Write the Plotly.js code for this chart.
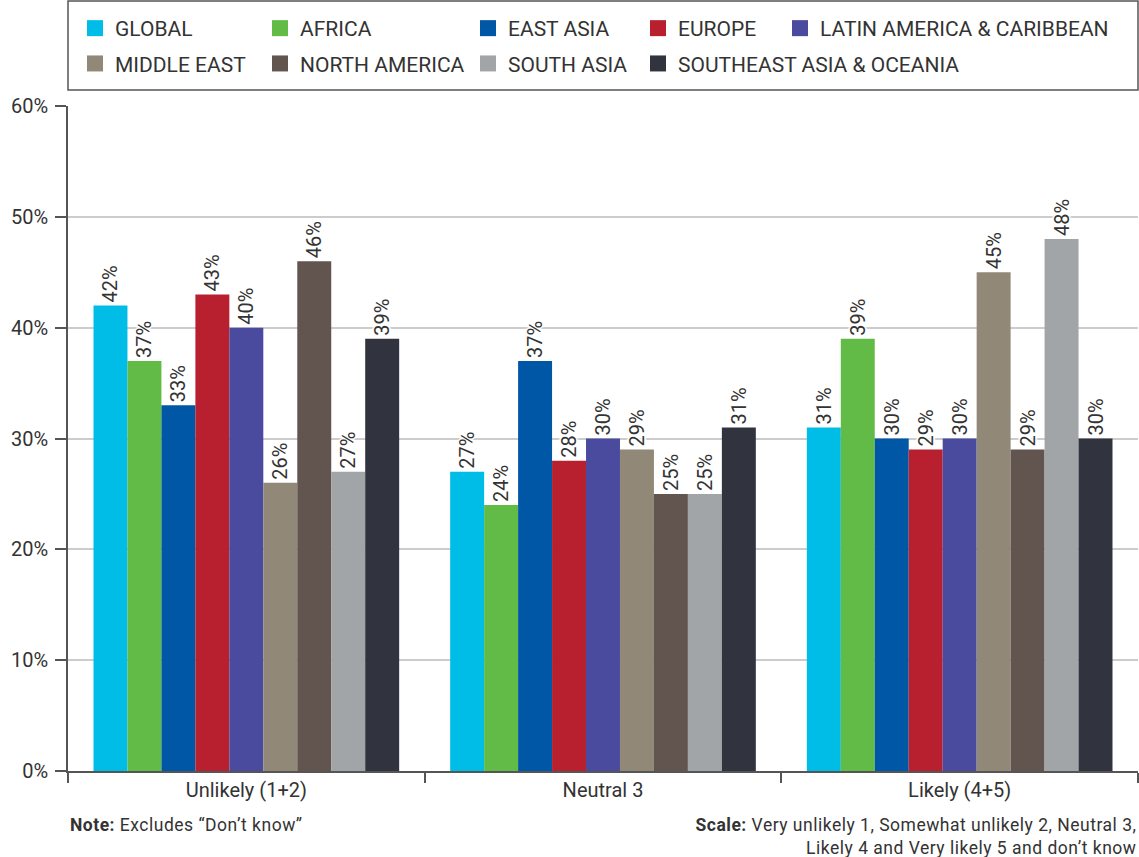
<!DOCTYPE html>
<html><head><meta charset="utf-8">
<script src="https://cdn.plot.ly/plotly-3.0.1.min.js"></script>
<style>
html,body{margin:0;padding:0;background:#fff}#chart{width:1139px;height:857px}
#chart .annotation-text{letter-spacing:0.5px}
</style>
</head><body><div id="chart"></div>
<script>
const categories = ["Unlikely (1+2)", "Neutral 3", "Likely (4+5)"];
const regions = ["GLOBAL","AFRICA","EAST ASIA","EUROPE","LATIN AMERICA & CARIBBEAN","MIDDLE EAST","NORTH AMERICA","SOUTH ASIA","SOUTHEAST ASIA & OCEANIA"];
const colors = ["#00BDE8","#62BB46","#0057A6","#B8202F","#4A4A9F","#928877","#62554F","#A2A5A8","#31343F"];
const global_ = [42,27,31];
const africa = [37,24,39];
const eastAsia = [33,37,30];
const europe = [43,28,29];
const latinAmerica = [40,30,30];
const middleEast = [26,29,45];
const northAmerica = [46,25,29];
const southAsia = [27,25,48];
const southeastAsia = [39,31,30];
const series = [global_,africa,eastAsia,europe,latinAmerica,middleEast,northAmerica,southAsia,southeastAsia];
const legendOf = ["legend","legend2","legend3","legend4","legend5","legend","legend2","legend3","legend4"];

const W = 1139, H = 857;
const fontFam = "Roboto, 'DejaVu Sans', sans-serif";
const txtColor = "#333333";

const barTraces = series.map((vals, i) => ({
  type: "bar",
  name: regions[i],
  x: categories,
  y: vals,
  marker: {color: colors[i]},
  text: vals.map(v => v + "%"),
  textposition: "outside",
  textangle: -90,
  constraintext: "none",
  cliponaxis: false,
  textfont: {family: fontFam, size: 20, color: txtColor,
    shadow: "2px 0 1px #fff, -2px 0 1px #fff, 0 2px 1px #fff, 0 -2px 1px #fff"},
  showlegend: false,
  legendgroup: "g" + i,
  hoverinfo: "x+y+name"
}));

// legend-only entries (square swatches) for the same series
const legendTraces = regions.map((name, i) => ({
  type: "scatter", mode: "markers", name: name,
  x: [null], y: [null],
  marker: {color: colors[i], symbol: "square", size: 20},
  legend: legendOf[i], legendgroup: "g" + i, showlegend: true, hoverinfo: "skip"
}));

function leg(xpx) {
  return {x: xpx / W, xref: "container", y: 1 - 8 / H, yref: "container",
    xanchor: "left", yanchor: "top", orientation: "v", bgcolor: "rgba(0,0,0,0)",
    font: {family: fontFam, size: 21, color: txtColor}, tracegroupgap: 5, traceorder: "grouped",
    itemsizing: "trace"};
}

const layout = {
  width: W, height: H,
  margin: {l: 68, r: 1, t: 106, b: 86, autoexpand: false},
  paper_bgcolor: "#fff", plot_bgcolor: "#fff",
  barmode: "group", bargap: 0.143, bargroupgap: 0,
  showlegend: true,
  legend: leg(75), legend2: leg(260), legend3: leg(468), legend4: leg(638), legend5: leg(780),
  font: {family: fontFam, size: 20, color: txtColor},
  xaxis: {
    type: "category", tickson: "boundaries", ticks: "outside", ticklen: 10, tickwidth: 1.5,
    tickcolor: "#555", showline: true, linecolor: "#555", linewidth: 2,
    showgrid: false, tickfont: {family: fontFam, size: 20, color: txtColor}, automargin: false
  },
  yaxis: {
    range: [0, 60], dtick: 10, ticksuffix: "%", ticks: "outside", ticklen: 11, tickwidth: 1.5,
    tickcolor: "#555", showline: true, linecolor: "#555", linewidth: 1.5, ticklabelstandoff: 3,
    showgrid: true, gridcolor: "#cccccc", gridwidth: 2, zeroline: false,
    tickfont: {family: fontFam, size: 20, color: txtColor}, automargin: false
  },
  shapes: [{
    type: "rect", xref: "paper", yref: "paper",
    x0: 0, x1: 1, y0: (771 - 90) / 665, y1: (771 - 1) / 665,
    line: {color: "#555", width: 1.5}, fillcolor: "rgba(0,0,0,0)", layer: "above"
  }],
  annotations: [
    {xref: "paper", yref: "paper", x: 0, y: -0.063, xanchor: "left", yanchor: "top", showarrow: false,
     align: "left", text: "<b>Note:</b> Excludes “Don’t know”", font: {family: fontFam, size: 17.5, color: txtColor}},
    {xref: "paper", yref: "paper", x: 1, y: -0.063, xanchor: "right", yanchor: "top", showarrow: false,
     align: "right", text: "<b>Scale:</b> Very unlikely 1, Somewhat unlikely 2, Neutral 3,<br>Likely 4 and Very likely 5 and don’t know",
     font: {family: fontFam, size: 17.5, color: txtColor}}
  ]
};

Plotly.newPlot("chart", barTraces.concat(legendTraces), layout, {displayModeBar: false, responsive: false});
</script>
</body></html>
